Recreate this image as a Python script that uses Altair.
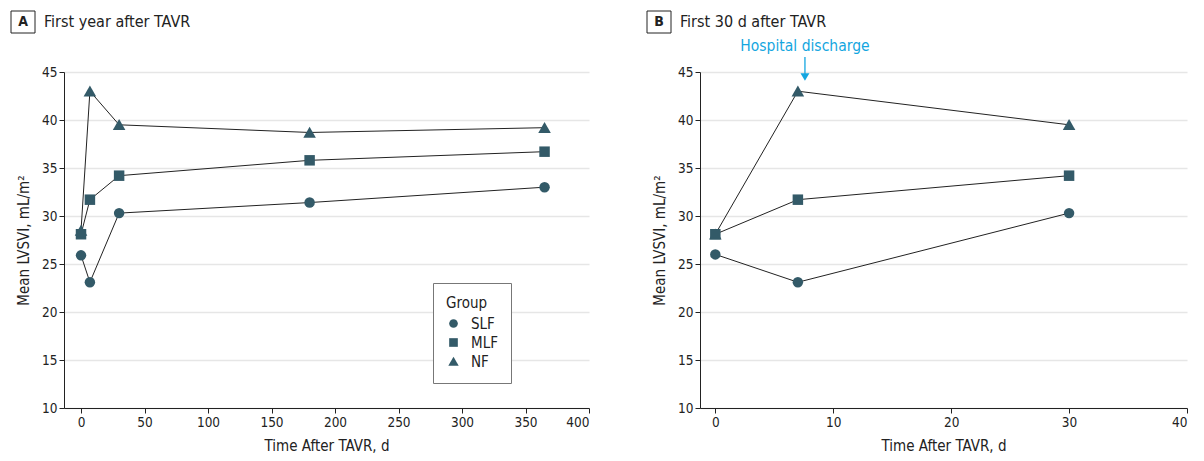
import altair as alt
import pandas as pd

# ---- data ----
groups = ["SLF", "MLF", "NF"]
draw_order = ["NF", "MLF", "SLF"]

# Panel A: first year
days_a = [0, 7, 30, 180, 365]
slf_a = [25.9, 23.1, 30.3, 31.4, 33.0]
mlf_a = [28.1, 31.7, 34.2, 35.8, 36.7]
nf_a = [28.5, 43.0, 39.5, 38.7, 39.2]

# Panel B: first 30 days
days_b = [0, 7, 30]
slf_b = [26.0, 23.1, 30.3]
mlf_b = [28.1, 31.7, 34.2]
nf_b = [28.1, 43.0, 39.5]

x_ticks_a = [0, 50, 100, 150, 200, 250, 300, 350, 400]
x_ticks_b = [0, 10, 20, 30, 40]
y_ticks = [10, 15, 20, 25, 30, 35, 40, 45]


def table(days, series):
    rows = []
    for g in draw_order:
        for d, v in zip(days, series[g]):
            rows.append({"Group": g, "Day": d, "LVSVI": v})
    return pd.DataFrame(rows)


df_a = table(days_a, {"SLF": slf_a, "MLF": mlf_a, "NF": nf_a})
df_b = table(days_b, {"SLF": slf_b, "MLF": mlf_b, "NF": nf_b})

FONT = "DejaVu Sans Condensed, Roboto"
MARK = "#335a68"
BLUE = "#14a6e0"
ytitle = "Mean LVSVI, mL/m²"
xtitle = "Time After TAVR, d"

TRI = "M0,-1.1L1.2,1L-1.2,1Z"
shape_scale = alt.Scale(domain=groups, range=["circle", "square", TRI])


def panel(data, xdomain, xticks, letter, title, width, legend):
    x = alt.X("Day:Q", title=xtitle,
              scale=alt.Scale(domain=xdomain, nice=False, zero=False),
              axis=alt.Axis(values=xticks, grid=False, format="d"))
    y = alt.Y("LVSVI:Q", title=ytitle,
              scale=alt.Scale(domain=[10, 45], nice=False, zero=False),
              axis=alt.Axis(values=y_ticks, grid=True))
    base = alt.Chart(data)
    lines = base.mark_line(color="#222222", strokeWidth=1).encode(
        x=x, y=y, detail="Group:N", order="Day:Q")
    if legend:
        leg = alt.Legend(title="Group", orient="none", legendX=369, legendY=211,
                         fillColor="white", strokeColor="#777777", padding=13,
                         titleFontSize=15, labelFontSize=15, symbolSize=75,
                         symbolFillColor=MARK, symbolStrokeWidth=0, rowPadding=3,
                         titleFontWeight="normal", titlePadding=5, labelOffset=10,
                         titleColor="#222222", labelColor="#222222")
    else:
        leg = None
    pts = base.mark_point(filled=True, color=MARK, opacity=1, size=110).encode(
        x=x, y=y,
        shape=alt.Shape("Group:N", scale=shape_scale, legend=leg))
    box = alt.Chart(pd.DataFrame({"k": [letter]})).mark_rect(
        fill="white", stroke="#222222", strokeWidth=1).encode(
        x=alt.value(-53), x2=alt.value(-29), y=alt.value(-61), y2=alt.value(-39))
    let = alt.Chart(pd.DataFrame({"k": [letter]})).mark_text(
        font=FONT, fontSize=14, fontWeight="bold", color="#222222",
        align="center", baseline="middle").encode(
        text="k:N", x=alt.value(-41), y=alt.value(-50))
    ttl = alt.Chart(pd.DataFrame({"k": [title]})).mark_text(
        font=FONT, fontSize=16, color="#222222", align="left",
        baseline="middle").encode(
        text="k:N", x=alt.value(-20), y=alt.value(-50))
    return alt.layer(lines, pts, box, let, ttl).properties(width=width, height=336)


pa = panel(df_a, [-13.4, 400], x_ticks_a, "A", "First year after TAVR", 525, True)
pb = panel(df_b, [-1.3, 40], x_ticks_b, "B", "First 30 d after TAVR", 487, False)

ann_x = 7.6
ann = pd.DataFrame({"Day": [ann_x], "label": ["Hospital discharge"]})
ann_text = alt.Chart(ann).mark_text(font=FONT, fontSize=15.5, color=BLUE,
                                    baseline="middle").encode(
    x=alt.X("Day:Q"), y=alt.value(-26), text="label:N")
ann_rule = alt.Chart(ann).mark_rule(color=BLUE, strokeWidth=1.3).encode(
    x=alt.X("Day:Q"), y=alt.value(-15), y2=alt.value(2))
ann_head = alt.Chart(ann).mark_point(shape="triangle-down", filled=True,
                                     color=BLUE, opacity=1, size=80).encode(
    x=alt.X("Day:Q"), y=alt.value(5))
pb = alt.layer(pb, ann_text, ann_rule, ann_head)

chart = alt.hconcat(pa, pb, spacing=56).configure(
    font=FONT, padding={"left": 2, "top": 2, "right": 0, "bottom": 0}
).configure_view(stroke=None).configure_axis(
    labelFont=FONT, titleFont=FONT, labelFontSize=13.5, titleFontSize=15,
    labelColor="#222222", titleColor="#222222", titleFontWeight="normal",
    domainColor="#222222", tickColor="#222222", tickSize=5, domainWidth=1,
    gridColor="#e6e6e6", gridWidth=1.5, labelPadding=2, titlePadding=10
).configure_legend(labelFont=FONT, titleFont=FONT)

chart.save("out.html", embed_options={"renderer": "svg", "actions": False})
